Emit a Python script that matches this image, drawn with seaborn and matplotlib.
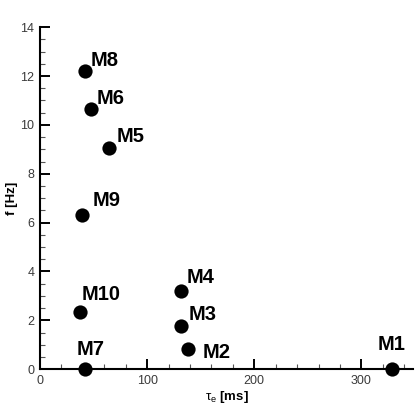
import pandas as pd
import matplotlib.pyplot as plt
import seaborn as sns
from matplotlib.ticker import MultipleLocator

# --- data ---
modes = ['M1', 'M2', 'M3', 'M4', 'M5', 'M6', 'M7', 'M8', 'M9', 'M10']
tau_e = [329, 137.7, 132, 132, 64.8, 47.4, 42.4, 41.8, 39.3, 37.4]
freq = [0.0, 0.83, 1.77, 3.2, 9.06, 10.64, 0.0, 12.2, 6.32, 2.35]

# label offsets in pixels (dx, dy), relative to each point
label_offsets = {
    'M1': (-1, 25, 'center'), 'M2': (15, -4, 'left'), 'M3': (7, 11, 'left'),
    'M4': (5, 13, 'left'), 'M5': (7, 11, 'left'), 'M6': (6, 11, 'left'),
    'M7': (5, 20, 'center'), 'M8': (6, 11, 'left'), 'M9': (10, 14, 'left'),
    'M10': (2, 17, 'left'),
}

df = pd.DataFrame({'mode': modes, 'tau': tau_e, 'f': freq})

sns.set_style('ticks')
plt.rcParams['font.family'] = ['Liberation Sans', 'DejaVu Sans']
plt.rcParams['mathtext.fontset'] = 'custom'
plt.rcParams['mathtext.rm'] = 'Liberation Sans'

fig = plt.figure(figsize=(4.17, 4.12), dpi=100)
ax = fig.add_axes([0.096, 0.104, 0.894, 0.830])

sns.scatterplot(data=df, x='tau', y='f', ax=ax, color='black', s=105,
                edgecolor='black', linewidth=0, clip_on=False, zorder=5)

for m, x, y in zip(modes, tau_e, freq):
    dx, dy, ha = label_offsets[m]
    ax.annotate(m, (x, y), xytext=(dx, dy), textcoords='offset pixels',
                ha=ha, va='center', fontsize=14.5, fontweight='bold',
                color='black')

ax.set_xlim(0, 348)
ax.set_ylim(0, 14)
ax.xaxis.set_major_locator(MultipleLocator(100))
ax.xaxis.set_minor_locator(MultipleLocator(20))
ax.yaxis.set_major_locator(MultipleLocator(2))
ax.yaxis.set_minor_locator(MultipleLocator(0.5))

sns.despine(ax=ax)
for side in ['left', 'bottom']:
    ax.spines[side].set_linewidth(1.5)
    ax.spines[side].set_color('black')

ax.tick_params(which='major', direction='in', length=7, width=1.4,
               labelsize=9, labelcolor='#3a3a3a', color='black', pad=4)
ax.tick_params(which='minor', direction='in', length=3.5, width=0.8,
               color='#555555')

ax.set_xlabel(r'$\mathrm{\tau_e}$ [ms]', fontsize=9.5, fontweight='bold',
              labelpad=2, color='black')
ax.set_ylabel('f [Hz]', fontsize=9.5, fontweight='bold', labelpad=2,
              color='black')

plt.savefig('out.png', dpi=100)
